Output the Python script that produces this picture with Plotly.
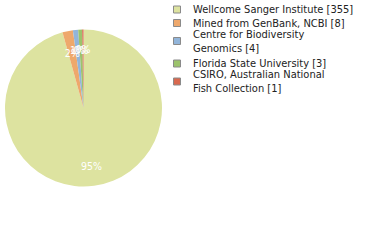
import plotly.graph_objects as go

labels = ["Wellcome Sanger Institute [355]", "Mined from GenBank, NCBI [8]",
          "Centre for Biodiversity<br>Genomics [4]", "Florida State University [3]",
          "CSIRO, Australian National<br>Fish Collection [1]"]
values = [355, 8, 4, 3, 1]
texts = ["95%", "2%", "1%", "0%", "0%"]
colors = ["#dde3a0", "#eea86c", "#92b5da", "#9cc36c", "#d9694f"]

FONT = "DejaVu Sans Condensed, DejaVu Sans"
dom = dict(x=[5/380, 162/380], y=[53/240, 211/240])
dom_small = dict(x=[23.5/380, 143.5/380], y=[72/240, 192/240])

big_texts = [t if v / sum(values) > 0.5 else "" for t, v in zip(texts, values)]
small_texts = [t if v / sum(values) <= 0.5 else "" for t, v in zip(texts, values)]

fig = go.Figure()
fig.add_trace(go.Pie(
    labels=labels, values=values, textinfo="none",
    sort=False, direction="clockwise", rotation=0,
    marker=dict(colors=colors, line=dict(width=0)),
    domain=dom, hoverinfo="skip", showlegend=False,
))
for txt, d, hole in [(big_texts, dom, 0.5), (small_texts, dom_small, 0)]:
    fig.add_trace(go.Pie(
        labels=labels, values=values, text=txt, textinfo="text",
        sort=False, direction="clockwise", rotation=0, hole=hole,
        marker=dict(colors=["rgba(0,0,0,0)"] * len(values), line=dict(width=0)),
        textposition="inside", insidetextorientation="horizontal",
        textfont=dict(family=FONT, size=10.5, color="white"),
        domain=d, hoverinfo="skip", showlegend=False,
    ))

# custom compact legend
centers = [9.5, 23, 41, 63.5, 81.5]
shapes, annotations = [], []
for lab, col, cy in zip(labels, colors, centers):
    yc = 1 - cy / 240
    shapes.append(dict(type="rect", xref="paper", yref="paper",
                       x0=173.5/380, x1=180.5/380, y0=yc - 3.5/240, y1=yc + 3.5/240,
                       fillcolor=col, line=dict(color="#8a8a8a", width=1)))
    annotations.append(dict(xref="paper", yref="paper", x=191/380, y=yc,
                            xanchor="left", yanchor="middle", align="left",
                            text=lab, showarrow=False,
                            font=dict(family=FONT, size=11, color="#222")))

fig.update_layout(
    width=380, height=240, margin=dict(l=0, r=0, t=0, b=0, autoexpand=False),
    paper_bgcolor="white", plot_bgcolor="white",
    uniformtext=dict(minsize=10.5, mode="show"),
    showlegend=False, shapes=shapes, annotations=annotations,
)
fig.write_html("out.html")
